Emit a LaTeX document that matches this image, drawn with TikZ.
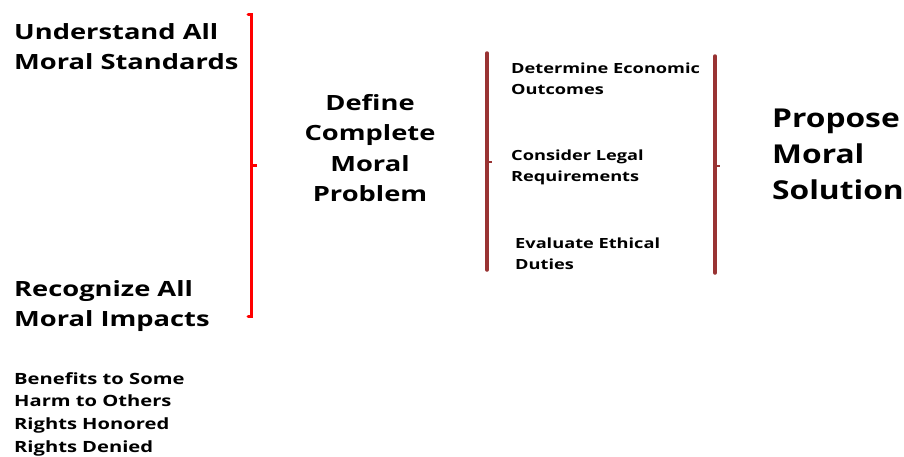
\documentclass[tikz,border=0pt]{standalone}
\usepackage{fontspec}
\setmainfont{Open Sans}
\newfontfamily\widesans{Open Sans}[FakeStretch=1.3]
\newfontfamily\titlesans{Open Sans}[FakeStretch=1.22]
\usepackage{tikz}
\usetikzlibrary{calc}

\begin{document}
\begin{tikzpicture}[x=1pt,y=-1pt]
\tikzset{big/.style = {font=\widesans\fontsize{21}{30.5}\selectfont\bfseries,align=left,inner sep=0pt}}
\tikzset{small/.style = {font=\widesans\fontsize{14}{20.5}\selectfont\bfseries,align=left,inner sep=0pt}}
\tikzset{list/.style = {font=\widesans\fontsize{15.5}{22.7}\selectfont\bfseries,align=left,inner sep=0pt}}
\tikzset{redbar/.style = {draw=red,line width=3pt,line cap=round}}
\tikzset{brownbar/.style = {draw={rgb,255:red,153;green,51;blue,51},line width=3.5pt,line cap=round}}
\useasboundingbox (0,0) rectangle (904,456);
%\draw (0,0) rectangle (904,456);
\node[big,anchor=north west] (std) at (14,23) {Understand All\\Moral Standards};
\node[big,anchor=north west] (imp) at (14,280) {Recognize All\\Moral Impacts};
\node[list,anchor=north west] (lst) at (14,372) {Benefits to Some\\Harm to Others\\Rights Honored\\Rights Denied};
\node[big,align=center] (def) at (370,148) {Define\\Complete\\Moral\\Problem};
\node[small,anchor=north west] (eco) at (511,63) {Determine Economic\\Outcomes};
\node[small,anchor=north west] (leg) at (511,150) {Consider Legal\\Requirements};
\node[small,anchor=north west] (eth) at (515,238) {Evaluate Ethical\\Duties};
\node[font=\titlesans\fontsize{26}{36}\selectfont\bfseries,align=left,inner sep=0pt,anchor=north west] (sol) at (772,109) {Propose\\Moral\\Solution};
% brackets
\coordinate (r1) at (251,14);
\coordinate (r2) at (251,316);
\draw[redbar] ($(r1)+(-3,0)$) -- (r1) -- (r2) -- ($(r2)+(-3,0)$);
\draw[redbar,line cap=butt] (251,165) -- (257,165);
\coordinate (b1) at (487,53);
\coordinate (b2) at (487,270);
\draw[brownbar] (b1) -- (b2);
\draw[brownbar,line cap=butt,line width=2pt] (487,162) -- (492,162);
\coordinate (c1) at (715,56);
\coordinate (c2) at (715,273);
\draw[brownbar] (c1) -- (c2);
\draw[brownbar,line cap=butt,line width=2pt] (715,166) -- (720,166);
\end{tikzpicture}
\end{document}
